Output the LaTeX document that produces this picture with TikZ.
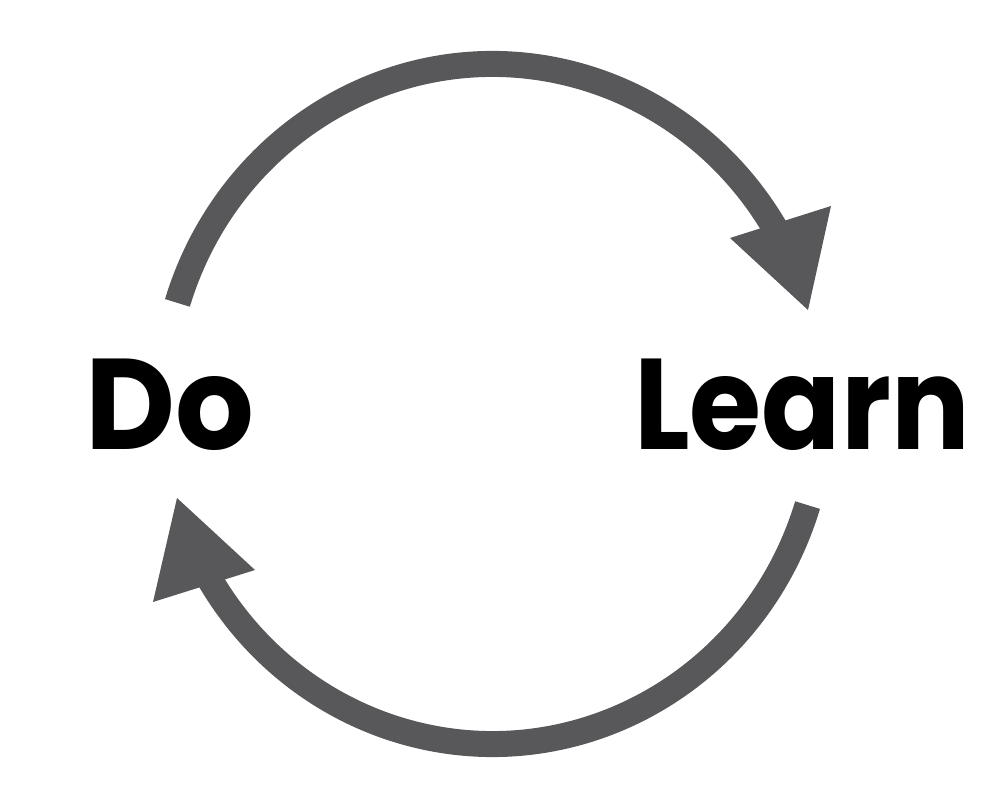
\documentclass[tikz,border=0pt]{standalone}
\usepackage{fontspec}
\usepackage{graphicx}
\usetikzlibrary{calc}
\newfontfamily\popfont{Poppins}
\definecolor{arrowgray}{RGB}{88,88,90}
\tikzset{
  loopline/.style={draw=arrowgray, line width=26pt, line cap=butt},
  loophead/.style={fill=arrowgray, draw=none},
  word/.style={inner sep=0pt, text=black, font=\popfont\bfseries\fontsize{129}{129}\selectfont}
}
\begin{document}
\begin{tikzpicture}[x=1pt,y=1pt]
\useasboundingbox (0,0) rectangle (1000,800);
\coordinate (c) at (492.5,396);
% top arc
\coordinate (ts) at ($(c)+(162.7:330 and 340)$);
\draw[loopline] (ts) arc[start angle=162.7, end angle=30, x radius=330, y radius=340] coordinate (te);
\coordinate (tt) at (808,490);
\coordinate (ta) at (730,562);
\coordinate (tb) at (831,594);
\fill[loophead] (tt) -- (ta) -- (tb) -- cycle;
% bottom arc
\coordinate (bs) at ($(c)+(-17.3:330 and 340)$);
\draw[loopline] (bs) arc[start angle=-17.3, end angle=-150, x radius=330, y radius=340] coordinate (be);
\coordinate (bt) at (177,302);
\coordinate (ba) at (153,198);
\coordinate (bb) at (255,230);
\fill[loophead] (bt) -- (ba) -- (bb) -- cycle;
% words
\node[word, anchor=base west] (do) at (85.5,350) {\scalebox{0.96}[1]{Do}};
\node[word, anchor=base east] (learn) at (970,350) {\scalebox{0.905}[1]{Learn}};
\end{tikzpicture}
\end{document}
